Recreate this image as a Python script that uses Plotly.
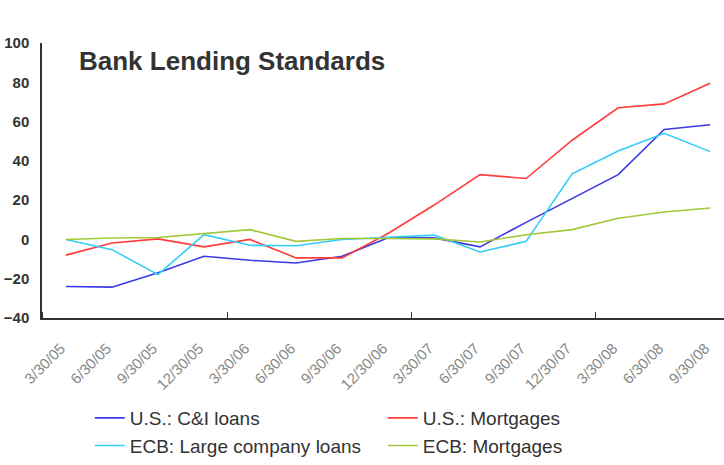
import plotly.graph_objects as go

dates = ["3/30/05", "6/30/05", "9/30/05", "12/30/05", "3/30/06", "6/30/06", "9/30/06",
         "12/30/06", "3/30/07", "6/30/07", "9/30/07", "12/30/07", "3/30/08", "6/30/08", "9/30/08"]
us_ci = [-24, -24.3, -17, -8.6, -10.6, -12, -8.6, 0.8, 0.8, -3.8, 8.7, 21, 33, 56, 58.4]
us_mort = [-8, -1.8, 0.3, -3.8, 0, -9.4, -9.4, 3, 17.5, 33, 31, 50.5, 67, 69, 79.5]
ecb_large = [0, -5.2, -17.9, 2.4, -3, -3.2, 0, 1.2, 2.2, -6.4, -1, 33.4, 45, 54, 44.7]
ecb_mort = [0, 0.7, 1, 3, 5, -1, 0.5, 0.5, 0.3, -1.3, 2.4, 5, 10.8, 14, 16]

names = ["U.S.: C&I loans", "U.S.: Mortgages", "ECB: Large company loans", "ECB: Mortgages"]
colors = ["#3A3AE8", "#FF3B3B", "#33CCF5", "#A2C83A"]
series = [us_ci, us_mort, ecb_large, ecb_mort]

x = list(range(len(dates)))
fig = go.Figure()
for nm, col, ys in zip(names, colors, series):
    fig.add_trace(go.Scatter(x=x, y=ys, mode="lines", name=nm,
                             line=dict(color=col, width=1.6)))

fig.update_layout(
    width=724, height=465,
    margin=dict(l=42, r=0, t=43, b=147),
    paper_bgcolor="white", plot_bgcolor="white",
    font=dict(family="Liberation Sans, Arial, sans-serif", color="#333333"),
    showlegend=True,
    legend=dict(orientation="h", xref="container", yref="container",
                x=0.124, y=0.0, xanchor="left", yanchor="bottom",
                entrywidth=248, entrywidthmode="pixels",
                font=dict(size=19, color="#333333"),
                tracegroupgap=0, itemwidth=30, traceorder="normal"),
    annotations=[dict(text="<b>Bank Lending Standards</b>", xref="paper", yref="paper",
                      x=0.051, y=0.935, xanchor="left", yanchor="middle",
                      showarrow=False, font=dict(size=26, color="#333333"))],
)
fig.update_xaxes(
    range=[-0.52, 14.3], tickmode="array", tickvals=x, ticktext=dates,
    tickangle=-45, ticks="", showgrid=False, zeroline=False,
    showline=True, linecolor="#333333", linewidth=1.5,
    tickfont=dict(size=15, color="#888888"), ticklabelstandoff=14, ticklabelshift=-5,
    minor=dict(tickmode="linear", tick0=-0.5, dtick=4, ticks="inside", ticklen=6,
               tickcolor="#333333", showgrid=False),
)
fig.update_yaxes(
    range=[-40, 100], dtick=20, showgrid=False, zeroline=False,
    showline=True, linecolor="#333333", linewidth=1.5, ticks="",
    ticklabelstandoff=8,
    tickfont=dict(size=15, color="#333333", family="Liberation Sans, Arial, sans-serif", weight="bold"),
)
fig.write_html("out.html")
